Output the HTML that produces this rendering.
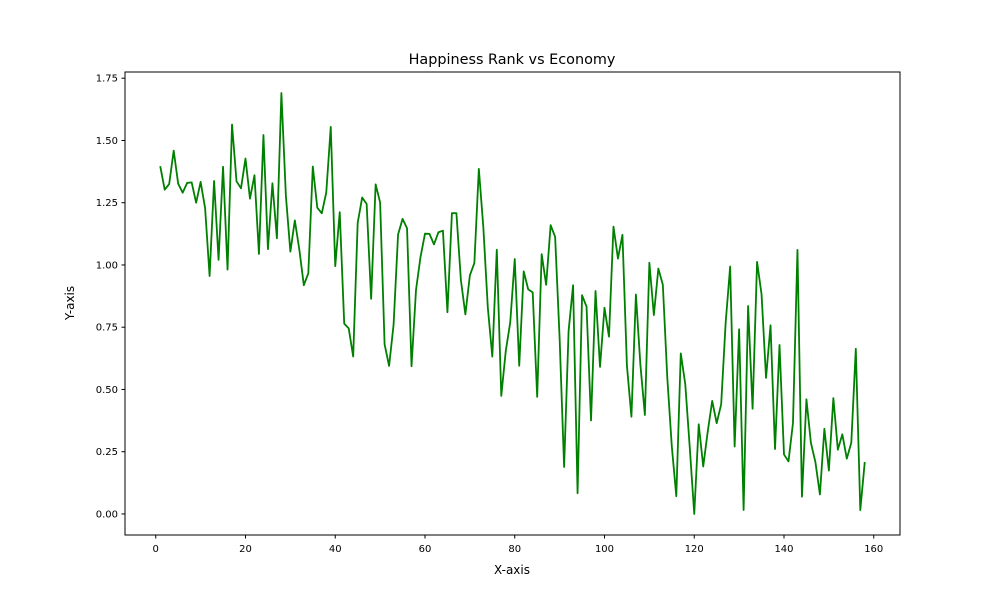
<!DOCTYPE html>
<html><head><meta charset="utf-8"><style>
body{margin:0;background:#fff;}
svg text{font-family:"DejaVu Sans","Liberation Sans",sans-serif;fill:#000;}
</style></head><body>
<svg id="chart" width="1000" height="600" xmlns="http://www.w3.org/2000/svg">
<rect width="1000" height="600" fill="#fff"/>
<text x="512" y="64" font-size="14.4" text-anchor="middle">Happiness Rank vs Economy</text>
<text x="512" y="574" font-size="12" text-anchor="middle">X-axis</text>
<text x="0" y="0" font-size="12" text-anchor="middle" transform="translate(74,303) rotate(-90)">Y-axis</text>
<g id="ticks"></g>
<polyline id="line" fill="none" stroke="#008000" stroke-width="1.8" stroke-linejoin="round"/>
<rect x="125" y="72" width="775" height="463" fill="none" stroke="#000" stroke-width="1"/>
</svg>
<script>
const economy = [1.39651,1.30232,1.32548,1.459,1.32629,1.29025,1.32944,1.33171,1.25018,1.33358,
1.22857,0.95578,1.33723,1.02054,1.39451,0.98124,1.56391,1.33596,1.30782,1.42727,
1.26637,1.36011,1.04424,1.52186,1.06353,1.32792,1.10715,1.69042,1.27778,1.05351,
1.17898,1.06166,0.91861,0.9669,1.39541,1.23011,1.2074,1.29098,1.55422,0.99534,
1.21183,0.76454,0.74553,0.63244,1.16891,1.27074,1.24461,0.86402,1.32376,1.25114,
0.68133,0.59448,0.75985,1.12254,1.18498,1.14723,0.59325,0.90019,1.03192,1.12555,
1.12486,1.08254,1.13145,1.13764,0.81038,1.20806,1.20813,0.93929,0.80148,0.95847,
1.00761,1.38604,1.15174,0.82827,0.63216,1.06098,0.47428,0.65435,0.77042,1.02389,
0.59543,0.97438,0.90198,0.89012,0.47038,1.04345,0.92053,1.15991,1.11312,0.70532,
0.18847,0.73479,0.91851,0.08308,0.87867,0.83223,0.37545,0.89537,0.59066,0.82819,
0.71206,1.15406,1.02564,1.12094,0.59532,0.39047,0.88113,0.59867,0.39753,1.0088,
0.79907,0.98549,0.92049,0.54558,0.271,0.0712,0.64499,0.52107,0.26673,0,
0.35997,0.19073,0.33024,0.45407,0.36471,0.44025,0.76821,0.99355,0.27108,0.7419,
0.01604,0.83524,0.4225,1.01216,0.8818,0.54649,0.75778,0.26074,0.67866,0.23906,
0.21102,0.36498,1.06024,0.0694,0.46038,0.2852,0.20824,0.0785,0.34193,0.17417,
0.46534,0.25812,0.31982,0.22208,0.28665,0.6632,0.0153,0.20868];
const xTicks = [0,20,40,60,80,100,120,140,160];
const yTicks = [0,0.25,0.5,0.75,1.0,1.25,1.5,1.75];
const yTickLabels = ["0.00","0.25","0.50","0.75","1.00","1.25","1.50","1.75"];

const L=125,R=900,T=72,B=535;
const ranks = economy.map((_,i)=>i+1);
const xmin=1,xmax=economy.length, xp=(xmax-xmin)*0.05;
const ymin=Math.min(...economy), ymax=Math.max(...economy), yp=(ymax-ymin)*0.05;
const sx=v=>L+(v-(xmin-xp))/((xmax+xp)-(xmin-xp))*(R-L);
const sy=v=>B-(v-(ymin-yp))/((ymax+yp)-(ymin-yp))*(B-T);
const NS="http://www.w3.org/2000/svg";
const line=document.getElementById('line');
line.setAttribute('points', economy.map((v,i)=>sx(ranks[i]).toFixed(2)+','+sy(v).toFixed(2)).join(' '));
const g=document.getElementById('ticks');
xTicks.forEach(t=>{
  const x=sx(t);
  const l=document.createElementNS(NS,'line');
  l.setAttribute('x1',x);l.setAttribute('x2',x);l.setAttribute('y1',B);l.setAttribute('y2',B+3.5);l.setAttribute('stroke','#000');
  
  
  g.appendChild(l);
  const tx=document.createElementNS(NS,'text');
  tx.setAttribute('x',x);tx.setAttribute('y',B+17);tx.setAttribute('font-size','10');tx.setAttribute('text-anchor','middle');
  tx.textContent=t;
  
  
  g.appendChild(tx);
});
yTicks.forEach((t,i)=>{
  const y=sy(t);
  const l=document.createElementNS(NS,'line');
  l.setAttribute('x1',L-3.5);l.setAttribute('x2',L);l.setAttribute('y1',y);l.setAttribute('y2',y);l.setAttribute('stroke','#000');
  
  
  g.appendChild(l);
  const tx=document.createElementNS(NS,'text');
  tx.setAttribute('x',L-7);tx.setAttribute('y',y+3.5);tx.setAttribute('font-size','10');tx.setAttribute('text-anchor','end');
  tx.textContent=yTickLabels[i];
  
  
  g.appendChild(tx);
});
</script>
</body></html>
